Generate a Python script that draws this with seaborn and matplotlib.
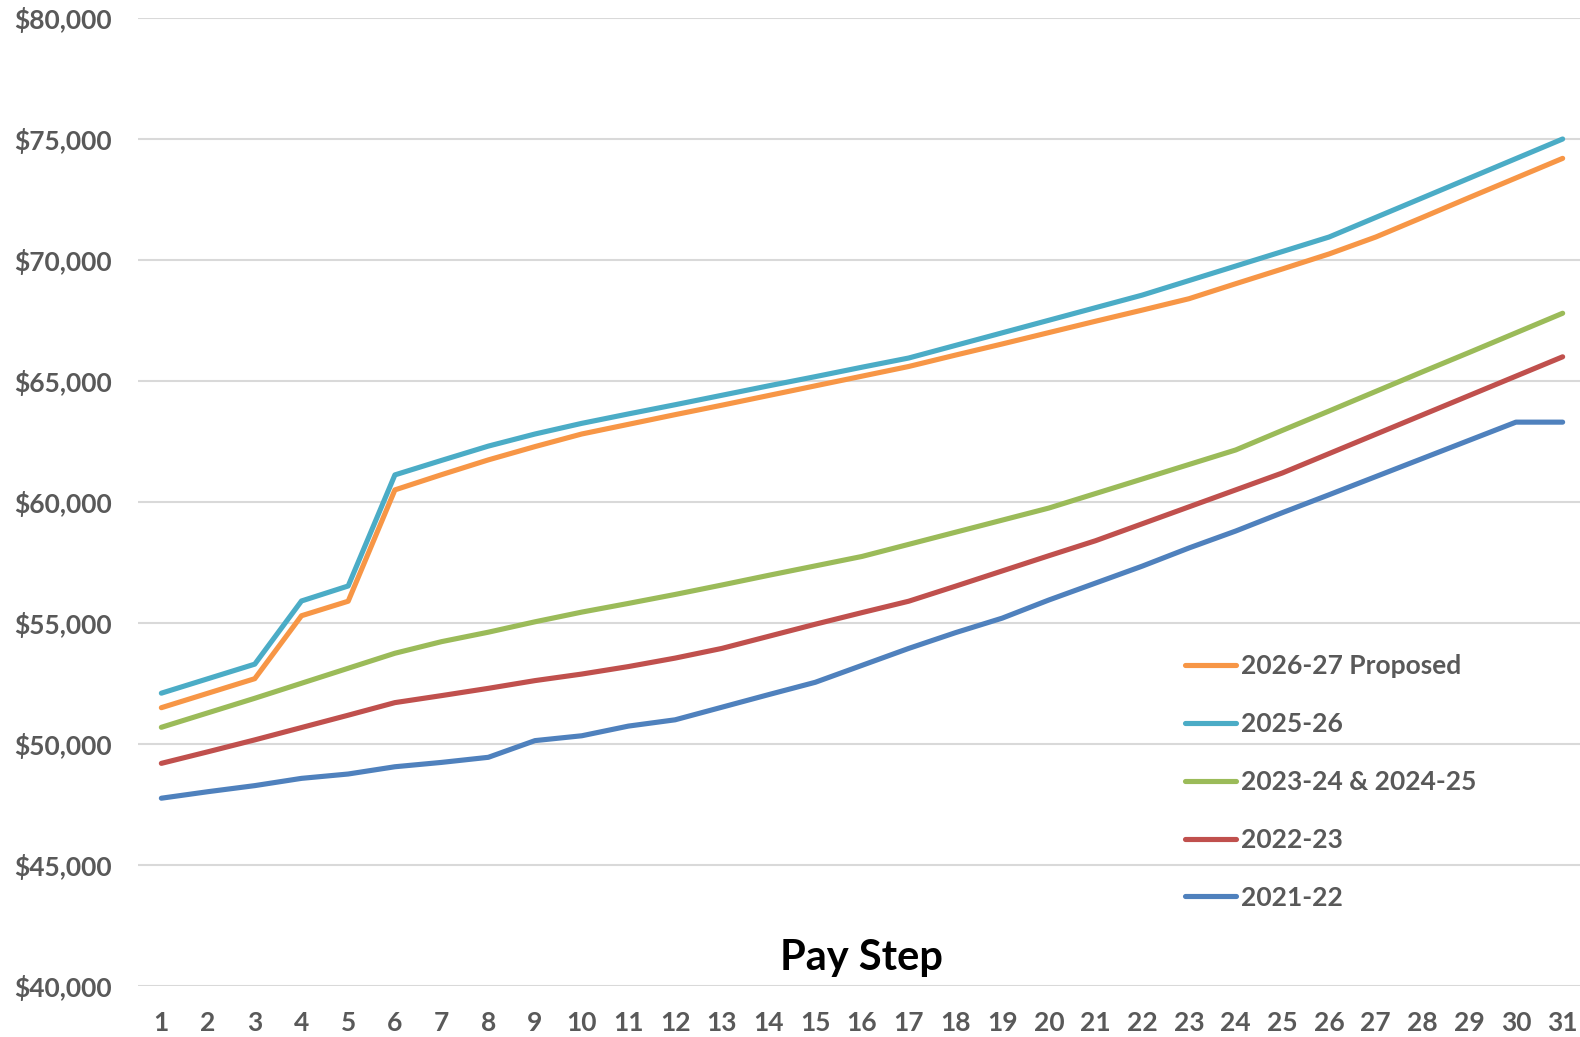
import numpy as np
import pandas as pd
import matplotlib
matplotlib.use('Agg')
import matplotlib.pyplot as plt
import seaborn as sns
from matplotlib.ticker import FuncFormatter

sns.set_theme(style='white')
plt.rcParams['font.family'] = ['Lato', 'DejaVu Sans']

# ====
# DATA
# ====
steps = list(range(1, 32))

salary_2026_27 = [51500, 52100, 52700, 55300, 55900, 60500, 61130, 61740, 62290, 62810,
                  63210, 63610, 64000, 64400, 64800, 65200, 65600, 66070, 66530, 67000,
                  67470, 67930, 68400, 69020, 69630, 70250, 70950, 71760, 72580, 73390,
                  74200]
salary_2025_26 = [52100, 52700, 53300, 55910, 56530, 61120, 61720, 62310, 62810, 63250,
                  63640, 64020, 64410, 64800, 65180, 65570, 65950, 66470, 66990, 67510,
                  68030, 68550, 69150, 69750, 70350, 70950, 71760, 72570, 73380, 74190,
                  75000]
salary_2023_25 = [50690, 51290, 51890, 52510, 53130, 53750, 54230, 54620, 55050, 55450,
                  55810, 56180, 56570, 56970, 57360, 57750, 58250, 58750, 59250, 59750,
                  60350, 60950, 61550, 62150, 62960, 63760, 64570, 65380, 66180, 66990,
                  67800]
salary_2022_23 = [49200, 49680, 50170, 50680, 51190, 51710, 52000, 52300, 52620, 52890,
                  53200, 53550, 53950, 54450, 54950, 55430, 55900, 56520, 57150, 57780,
                  58400, 59100, 59800, 60500, 61200, 62000, 62800, 63600, 64400, 65200,
                  66000]
salary_2021_22 = [47760, 48030, 48280, 48580, 48760, 49060, 49240, 49450, 50140, 50340,
                  50740, 51000, 51520, 52040, 52550, 53250, 53950, 54600, 55200, 55950,
                  56650, 57350, 58100, 58800, 59560, 60300, 61050, 61800, 62550, 63300,
                  63300]

series_names = ['2026-27 Proposed', '2025-26', '2023-24 & 2024-25', '2022-23', '2021-22']
series_values = [salary_2026_27, salary_2025_26, salary_2023_25, salary_2022_23, salary_2021_22]
series_colors = ['#F79646', '#4BACC6', '#9BBB59', '#C0504D', '#4F81BD']

y_ticks = [40000, 45000, 50000, 55000, 60000, 65000, 70000, 75000, 80000]

# long-form table for seaborn
frames = []
for name, vals in zip(series_names, series_values):
    frames.append(pd.DataFrame({'step': steps, 'salary': vals, 'series': name}))
df = pd.concat(frames, ignore_index=True)

# ====
# PLOT
# ====
W, H = 1580, 1037
fig = plt.figure(figsize=(W / 100, H / 100), dpi=100)
# plot area runs past the right edge of the picture, as in the original crop
ax = fig.add_axes([138 / W, 1 - 986 / H, 1448 / W, 968 / H])

sns.lineplot(data=df, x='step', y='salary', hue='series', hue_order=series_names,
             palette=dict(zip(series_names, series_colors)), linewidth=3.7,
             ax=ax, legend=True)
for ln in ax.get_lines():
    ln.set_solid_capstyle('round')
    ln.set_solid_joinstyle('round')

ax.set_xlim(0.5, 31.5)
ax.set_ylim(40000, 80000)
ax.set_yticks(y_ticks)
ax.set_xticks(steps)
ax.yaxis.set_major_formatter(FuncFormatter(lambda v, p: '${:,.0f}'.format(v)))

ax.grid(axis='y', color='#D9D9D9', linewidth=1.5)
ax.grid(axis='x', visible=False)
for s in ax.spines.values():
    s.set_visible(False)

ax.tick_params(axis='both', length=0, labelsize=19, labelcolor='#595959')
ax.tick_params(axis='y', pad=19)
ax.tick_params(axis='x', pad=18)
for lab in ax.get_xticklabels() + ax.get_yticklabels():
    lab.set_fontweight('bold')

ax.set_xlabel('')
ax.set_ylabel('')
ax.text(15.98, 41150, 'Pay Step', ha='center', va='center', fontsize=30,
        fontweight='bold', color='black')

handles, labels = ax.get_legend_handles_labels()
leg = ax.legend(handles, labels, loc='upper left', bbox_to_anchor=(0.707, 0.367),
                frameon=False, fontsize=19, handlelength=1.9, handletextpad=0.2,
                labelspacing=1.28)
for t in leg.get_texts():
    t.set_fontweight('bold')
    t.set_color('#595959')

plt.savefig('out.png', dpi=100)
plt.close()
